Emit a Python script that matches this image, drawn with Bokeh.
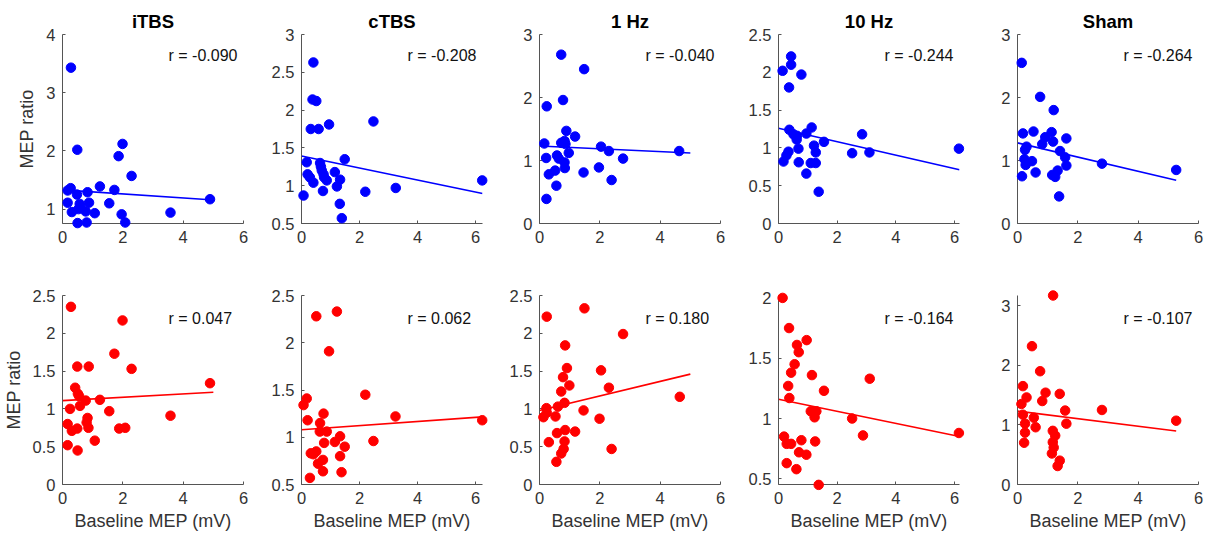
from bokeh.plotting import figure
from bokeh.layouts import row, column
from bokeh.models import Range1d, FixedTicker, NumeralTickFormatter, Label
from bokeh.embed import file_html
from bokeh.resources import INLINE

conditions = ["iTBS", "cTBS", "1 Hz", "10 Hz", "Sham"]

# ---------------- top row (blue) ----------------
itbs_top_x = [0.28, 0.49, 1.99, 1.86, 2.29, 0.17, 0.27, 1.24, 1.72, 0.83, 0.48, 0.17, 0.57, 0.88, 1.55, 0.31, 0.53, 0.77, 1.07, 1.96, 3.58, 4.89, 0.50, 0.80, 2.08, 0.60]
itbs_top_y = [3.43, 2.02, 2.12, 1.91, 1.57, 1.32, 1.36, 1.39, 1.33, 1.29, 1.25, 1.11, 1.09, 1.11, 1.10, 0.95, 1.00, 0.96, 0.93, 0.91, 0.94, 1.17, 0.76, 0.77, 0.77, 1.03]

ctbs_top_x = [0.41, 0.38, 0.51, 0.32, 0.59, 0.95, 2.48, 1.49, 0.18, 0.64, 0.67, 0.70, 1.15, 0.76, 0.21, 0.29, 0.78, 0.41, 0.87, 1.33, 1.22, 0.07, 0.74, 2.20, 3.25, 6.23, 1.32, 1.39]
ctbs_top_y = [2.63, 2.14, 2.12, 1.75, 1.75, 1.81, 1.85, 1.35, 1.31, 1.30, 1.25, 1.20, 1.18, 1.15, 1.15, 1.11, 1.11, 1.04, 1.07, 1.08, 0.99, 0.87, 0.93, 0.92, 0.97, 1.07, 0.76, 0.57]

hz1_top_x = [0.72, 1.48, 0.78, 0.24, 0.89, 1.18, 0.16, 0.72, 0.83, 0.86, 2.04, 2.30, 4.63, 0.97, 0.58, 0.22, 0.64, 2.77, 0.83, 0.84, 1.97, 1.46, 0.52, 0.31, 2.39, 0.56, 0.23]
hz1_top_y = [2.68, 2.45, 1.96, 1.86, 1.47, 1.38, 1.27, 1.28, 1.31, 1.26, 1.22, 1.15, 1.15, 1.12, 1.08, 1.04, 1.03, 1.03, 0.97, 0.88, 0.89, 0.81, 0.84, 0.78, 0.69, 0.60, 0.39]

hz10_top_x = [0.43, 0.43, 0.14, 0.78, 0.36, 0.37, 1.13, 0.95, 0.51, 0.63, 0.62, 2.85, 1.55, 1.21, 0.68, 0.34, 1.27, 0.27, 2.51, 3.10, 6.15, 0.17, 0.69, 1.10, 1.27, 0.95, 1.37]
hz10_top_y = [2.21, 2.10, 2.02, 1.97, 1.80, 1.24, 1.27, 1.19, 1.18, 1.16, 1.11, 1.18, 1.08, 1.03, 0.99, 0.95, 0.94, 0.90, 0.93, 0.94, 0.99, 0.82, 0.81, 0.80, 0.80, 0.66, 0.42]

sham_top_x = [0.14, 0.75, 1.20, 0.18, 0.53, 1.13, 0.92, 1.62, 1.18, 0.82, 0.30, 0.25, 1.41, 1.58, 0.23, 0.48, 0.27, 1.62, 2.80, 5.26, 1.33, 0.60, 0.15, 1.15, 1.25, 1.38]
sham_top_y = [2.55, 2.01, 1.80, 1.43, 1.46, 1.45, 1.37, 1.35, 1.30, 1.26, 1.22, 1.17, 1.15, 1.05, 1.02, 0.99, 0.93, 0.92, 0.95, 0.85, 0.84, 0.81, 0.75, 0.77, 0.74, 0.43]

# ---------------- bottom row (red) ----------------
itbs_bot_x = [0.28, 1.99, 1.72, 0.49, 0.87, 2.29, 4.89, 0.42, 0.51, 0.55, 0.77, 1.24, 0.58, 0.25, 1.55, 3.58, 0.83, 0.80, 0.17, 0.49, 0.31, 0.86, 1.88, 2.08, 1.07, 0.17, 0.50]
itbs_bot_y = [2.35, 2.17, 1.73, 1.56, 1.56, 1.53, 1.34, 1.28, 1.20, 1.17, 1.11, 1.12, 1.04, 1.00, 0.97, 0.91, 0.88, 0.82, 0.80, 0.74, 0.71, 0.75, 0.74, 0.75, 0.58, 0.52, 0.45]

ctbs_bot_x = [0.51, 1.22, 0.95, 2.20, 0.18, 0.07, 0.76, 3.24, 6.23, 0.21, 0.64, 0.63, 0.87, 1.33, 1.15, 0.78, 2.48, 1.49, 0.51, 0.32, 0.41, 1.33, 0.74, 0.57, 0.74, 1.38, 0.29]
ctbs_bot_y = [2.28, 2.33, 1.91, 1.45, 1.41, 1.34, 1.25, 1.22, 1.18, 1.18, 1.15, 1.06, 1.06, 1.01, 0.95, 0.94, 0.96, 0.90, 0.85, 0.83, 0.82, 0.80, 0.76, 0.72, 0.64, 0.63, 0.57]

hz1_bot_x = [1.49, 0.24, 2.77, 0.85, 0.91, 2.04, 0.78, 0.99, 2.30, 0.72, 4.65, 0.83, 0.23, 0.61, 1.46, 0.24, 0.53, 0.13, 1.99, 0.85, 1.18, 0.58, 0.83, 0.31, 0.80, 2.39, 0.72, 0.56]
hz1_bot_y = [2.33, 2.22, 1.99, 1.84, 1.54, 1.51, 1.42, 1.31, 1.28, 1.23, 1.16, 1.08, 1.01, 1.03, 0.98, 0.95, 0.90, 0.89, 0.87, 0.72, 0.70, 0.68, 0.57, 0.56, 0.47, 0.47, 0.41, 0.30]

hz10_bot_x = [0.14, 0.36, 0.96, 0.63, 0.69, 0.55, 0.43, 1.14, 3.11, 0.33, 1.55, 0.37, 1.10, 1.29, 1.23, 2.51, 6.15, 2.88, 0.19, 0.28, 0.43, 0.78, 1.25, 0.70, 0.95, 0.28, 0.61, 1.37]
hz10_bot_y = [2.00, 1.75, 1.65, 1.61, 1.55, 1.45, 1.38, 1.36, 1.33, 1.27, 1.23, 1.17, 1.06, 1.06, 1.01, 1.00, 0.88, 0.86, 0.85, 0.79, 0.79, 0.82, 0.81, 0.72, 0.70, 0.63, 0.58, 0.45]

sham_bot_x = [1.18, 0.48, 0.75, 0.18, 0.93, 1.40, 0.30, 0.13, 0.82, 1.58, 2.80, 0.18, 0.54, 5.26, 1.62, 0.25, 0.60, 0.25, 1.17, 1.25, 1.17, 0.22, 1.20, 1.14, 1.40, 1.33]
sham_bot_y = [3.17, 2.32, 1.90, 1.65, 1.54, 1.52, 1.46, 1.35, 1.40, 1.24, 1.25, 1.17, 1.12, 1.07, 1.02, 1.02, 0.96, 0.87, 0.90, 0.82, 0.71, 0.70, 0.62, 0.52, 0.40, 0.31]

# regression lines: intercept, slope, x extent
top_fit_intercept = [1.33, 1.394, 1.23, 1.26, 1.28]
top_fit_slope = [-0.0345, -0.0795, -0.022, -0.089, -0.113]
top_fit_xend = [4.89, 6.24, 5.0, 6.17, 5.26]
bot_fit_intercept = [1.11, 1.08, 0.98, 1.16, 1.23]
bot_fit_slope = [0.022, 0.0217, 0.096, -0.050, -0.063]
bot_fit_xend = [5.0, 6.24, 5.0, 6.17, 5.26]

top_r = ["r = -0.090", "r = -0.208", "r = -0.040", "r = -0.244", "r = -0.264"]
bot_r = ["r = 0.047", "r = 0.062", "r = 0.180", "r = -0.164", "r = -0.107"]

# axis limits and ticks
top_xmax = [6, 6.24, 6, 6.17, 6]
bot_xmax = [6, 6.24, 6, 6.17, 6]
top_ylim = [(0.753, 4.0), (0.5, 3.0), (0.0, 3.0), (0.0, 2.5), (0.0, 3.0)]
bot_ylim = [(0.0, 2.5), (0.5, 2.5), (0.0, 2.5), (0.453, 2.02), (0.0, 3.17)]
top_yticks = [[1, 2, 3, 4], [0.5, 1, 1.5, 2, 2.5, 3], [0, 1, 2, 3], [0, 0.5, 1, 1.5, 2, 2.5], [0, 1, 2, 3]]
bot_yticks = [[0, 0.5, 1, 1.5, 2, 2.5], [0.5, 1, 1.5, 2, 2.5], [0, 0.5, 1, 1.5, 2, 2.5], [0.5, 1, 1.5, 2], [0, 1, 2, 3]]
x_ticks = [0, 2, 4, 6]

top_x = [itbs_top_x, ctbs_top_x, hz1_top_x, hz10_top_x, sham_top_x]
top_y = [itbs_top_y, ctbs_top_y, hz1_top_y, hz10_top_y, sham_top_y]
bot_x = [itbs_bot_x, ctbs_bot_x, hz1_bot_x, hz10_bot_x, sham_bot_x]
bot_y = [itbs_bot_y, ctbs_bot_y, hz1_bot_y, hz10_bot_y, sham_bot_y]

FONT = "Liberation Sans"
AX_COL = "#555555"
TXT_COL = "#333333"
FRAME_W = 181
FRAME_H = 189
BORDER_L = [62, 39, 38, 38, 38]
BORDER_R = [19, 19, 20, 20, 17]


def make_panel(i, xs, ys, xmax, ylim, yticks, color, fit_b, fit_m, fit_xend, rtext, top):
    p = figure(
        output_backend="svg", toolbar_location=None,
        frame_width=FRAME_W, frame_height=FRAME_H,
        min_border_left=BORDER_L[i], min_border_right=BORDER_R[i],
        min_border_top=34 if top else 35, min_border_bottom=37 if top else 50,
        x_range=Range1d(0, xmax), y_range=Range1d(*ylim),
        tools="", outline_line_color=None, background_fill_color="white",
        border_fill_color="white",
    )
    p.xgrid.visible = False
    p.ygrid.visible = False
    for ax, ticks in ((p.xaxis[0], x_ticks), (p.yaxis[0], yticks)):
        ax.ticker = FixedTicker(ticks=ticks, minor_ticks=[])
        ax.formatter = NumeralTickFormatter(format="0.[0]")
        ax.axis_line_color = AX_COL
        ax.axis_line_width = 1
        ax.major_tick_line_color = AX_COL
        ax.major_tick_in = 3
        ax.major_tick_out = 0
        ax.minor_tick_line_color = None
        ax.major_label_text_font = FONT
        ax.major_label_text_font_size = "16.5px"
        ax.major_label_text_color = TXT_COL
        ax.axis_label_text_font = FONT
        ax.axis_label_text_font_size = "18px"
        ax.axis_label_text_font_style = "normal"
        ax.axis_label_text_color = TXT_COL
    p.xaxis.major_label_standoff = 7
    p.yaxis.major_label_standoff = 7
    p.yaxis.axis_label_standoff = 6
    p.xaxis.axis_label_standoff = 4
    if i == 0:
        p.yaxis.axis_label = "MEP ratio"
    if not top:
        p.xaxis.axis_label = "Baseline MEP (mV)"
    if top:
        p.title.text = conditions[i]
        p.title.align = "center"
        p.title.text_font = FONT
        p.title.text_font_size = "18.5px"
        p.title.text_font_style = "bold"
        p.title.text_color = "#000000"
        p.title.standoff = 6

    r = p.scatter(xs, ys, size=9.5, color=color, line_color=color)
    r.level = "overlay"
    p.line([0, fit_xend], [fit_b, fit_b + fit_m * fit_xend], line_color=color, line_width=1.6)

    lx = 0 + (106.0 / FRAME_W) * (xmax - 0)
    frac = (21.0 if top else 23.0) / FRAME_H
    ly = ylim[1] - frac * (ylim[1] - ylim[0])
    p.add_layout(Label(x=lx, y=ly, text=rtext, text_align="left", text_baseline="middle",
                       text_font=FONT, text_font_size="16px", text_color="#111111"))
    return p


top_panels = [make_panel(i, top_x[i], top_y[i], top_xmax[i], top_ylim[i], top_yticks[i], "#0000ff",
                         top_fit_intercept[i], top_fit_slope[i], top_fit_xend[i], top_r[i], True)
              for i in range(5)]
bot_panels = [make_panel(i, bot_x[i], bot_y[i], bot_xmax[i], bot_ylim[i], bot_yticks[i], "#ff0000",
                         bot_fit_intercept[i], bot_fit_slope[i], bot_fit_xend[i], bot_r[i], False)
              for i in range(5)]

layout = column(row(*top_panels, spacing=0), row(*bot_panels, spacing=0), spacing=0)

open("out.html", "w").write(file_html(layout, INLINE))
